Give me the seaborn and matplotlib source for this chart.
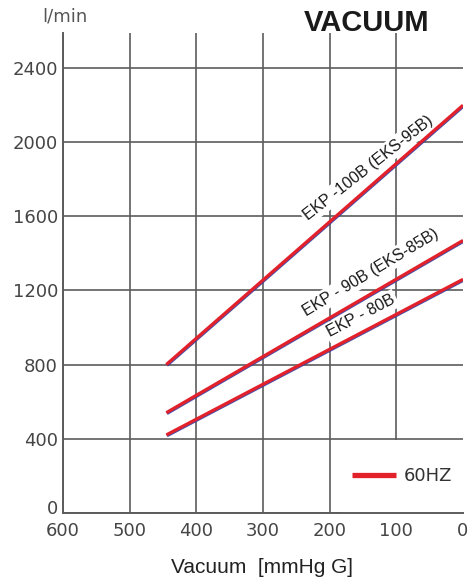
import numpy as np
import pandas as pd
import matplotlib.pyplot as plt
import matplotlib.patheffects as pe
import matplotlib.transforms as mtransforms
import seaborn as sns

# pump curves (60HZ), vacuum in mmHg G, flow in l/min
models = ["EKP -100B (EKS-95B)", "EKP - 90B (EKS-85B)", "EKP - 80B"]
vacuum = [445, 0]
flow_100b = [800, 2200]
flow_90b = [540, 1470]
flow_80b = [420, 1260]

# label placement (text centre in data units) and angle
label_x = [142, 139, 153]
label_y = [1863, 1298, 1062]
label_angle = [38, 31, 27.6]

x_ticks = [600, 500, 400, 300, 200, 100, 0]
y_ticks = [0, 400, 800, 1200, 1600, 2000, 2400]

df = pd.DataFrame({
    "model": np.repeat(models, len(vacuum)),
    "vacuum": vacuum * len(models),
    "flow": flow_100b + flow_90b + flow_80b,
})

sns.set_style("white")
plt.rcParams['font.family'] = ['DejaVu Sans']

fig = plt.figure(figsize=(4.69, 5.84), dpi=100)
ax = fig.add_axes([0.1343, 0.1221, 0.8529, 0.8214])

red = '#e3212b'
grid_color = '#5c5c5c'

sns.lineplot(data=df, x='vacuum', y='flow', units='model', estimator=None,
             color=red, lw=2.3, ax=ax, zorder=4, sort=False)
for line in ax.lines:
    line.set_solid_capstyle('butt')
    line.set_path_effects([
        pe.SimpleLineShadow(offset=(0.4, -0.6), shadow_color='#3a3a9c', alpha=0.9),
        pe.Normal(),
    ])

ax.set_xlim(600, 0)
ax.set_ylim(0, 2590)
ax.set_xticks(x_ticks)
ax.set_yticks(y_ticks)
ax.set_xlabel('')
ax.set_ylabel('')

ax.grid(True, color=grid_color, lw=1.2)
ax.xaxis.get_gridlines()[-1].set_visible(False)
for side in ['top', 'right']:
    ax.spines[side].set_visible(False)
for side in ['left', 'bottom']:
    ax.spines[side].set_color(grid_color)
    ax.spines[side].set_linewidth(1.4)
ax.spines['bottom'].set_zorder(6)

ax.tick_params(axis='both', length=0, labelsize=13, labelcolor='#454545')
ax.tick_params(axis='y', pad=3.6)
ax.tick_params(axis='x', pad=6.5)
# the y "0" sits a little above the baseline, clear of the x labels
zero_lab = ax.get_yticklabels()[0]
zero_lab.set_transform(zero_lab.get_transform()
                       + mtransforms.ScaledTranslation(0, 4 / 72, fig.dpi_scale_trans))

# model labels along the curves
for name, lx, ly, ang in zip(models, label_x, label_y, label_angle):
    ax.text(lx, ly, name, rotation=ang, rotation_mode='anchor',
            ha='center', va='center', fontsize=11.5, family='Liberation Sans',
            color='#1a1a1a', zorder=3,
            bbox=dict(boxstyle='square,pad=0.15', fc='white', ec='none'))

leg = ax.legend([ax.lines[0]], ['60HZ'], loc='lower right',
                bbox_to_anchor=(1, 0), borderaxespad=0, frameon=True,
                fancybox=False, fontsize=13, handlelength=2.4,
                handletextpad=0.45, handleheight=3.99, borderpad=0.6)
leg.get_frame().set_facecolor('white')
leg.get_frame().set_edgecolor('none')
leg.get_frame().set_alpha(1)
for t in leg.get_texts():
    t.set_color('#333333')
for hl in leg.get_lines():
    hl.set_linewidth(3.8)
    hl.set_path_effects([])
    hl.set_ydata(np.asarray(hl.get_ydata()) - 6.5)

fig.text(0.1386, 0.971, 'l/min', ha='center', va='center',
         fontsize=13, color='#555555')
fig.text(0.7825, 0.961, 'VACUUM', ha='center', va='center', fontsize=21,
         fontweight='bold', family='Liberation Sans', color='#1a1a1a')
fig.text(0.5586, 0.0274, 'Vacuum  [mmHg G]', ha='center', va='center',
         fontsize=15, family='Liberation Sans', color='#222222')

fig.savefig('out.png', dpi=100)
